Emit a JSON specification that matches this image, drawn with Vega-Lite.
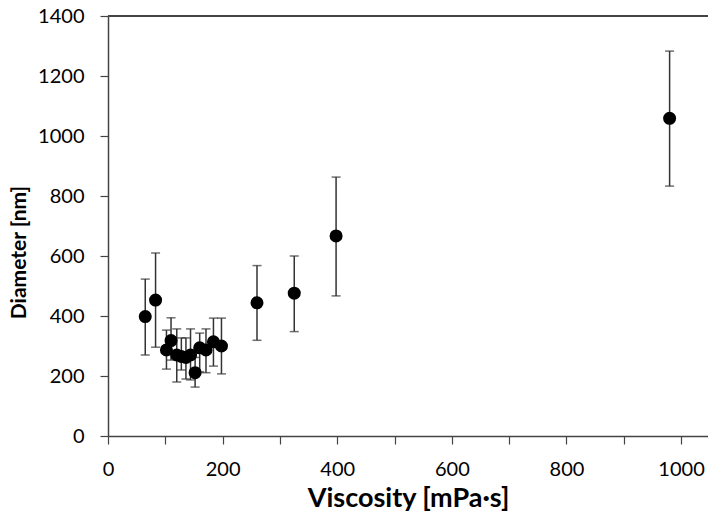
{
  "$schema": "https://vega.github.io/schema/vega-lite/v6.json",
  "autosize": "none",
  "width": 600,
  "height": 420,
  "padding": {"left": 108, "top": 16, "right": 0, "bottom": 83},
  "background": "white",
  "config": {"view": {"stroke": null}, "font": "Lato"},
  "data": {"values": [
    {"v": 65, "d": 398, "lo": 270, "hi": 523},
    {"v": 83, "d": 453, "lo": 296, "hi": 610},
    {"v": 102, "d": 287, "lo": 223, "hi": 353},
    {"v": 110, "d": 318, "lo": 253, "hi": 394},
    {"v": 120, "d": 270, "lo": 180, "hi": 357},
    {"v": 128, "d": 265, "lo": 220, "hi": 327},
    {"v": 136, "d": 262, "lo": 190, "hi": 327},
    {"v": 144, "d": 270, "lo": 187, "hi": 357},
    {"v": 152, "d": 211, "lo": 163, "hi": 262},
    {"v": 160, "d": 294, "lo": 214, "hi": 343},
    {"v": 171, "d": 287, "lo": 211, "hi": 357},
    {"v": 184, "d": 314, "lo": 233, "hi": 393},
    {"v": 198, "d": 300, "lo": 207, "hi": 393},
    {"v": 260, "d": 444, "lo": 319, "hi": 568},
    {"v": 325, "d": 476, "lo": 348, "hi": 600},
    {"v": 398, "d": 667, "lo": 467, "hi": 863},
    {"v": 980, "d": 1059, "lo": 833, "hi": 1283}
  ]},
  "encoding": {
    "x": {"field": "v", "type": "quantitative",
      "scale": {"domain": [0, 1047], "nice": false, "zero": true},
      "axis": {"title": "Viscosity [mPa·s]", "values": [0,100,200,300,400,500,600,700,800,900,1000],
        "labelExpr": "datum.value % 200 === 0 ? datum.value : ''", "labelFlush": false,
        "grid": false, "domainColor": "#444", "tickColor": "#444", "tickSize": 8, "domainWidth": 1.5, "tickWidth": 1.2,
        "labelFontSize": 20, "labelColor": "#000", "labelPadding": 15,
        "titleFontSize": 27, "titleFontWeight": "bold", "titleColor": "#000", "titlePadding": 6}}
  },
  "layer": [
    {"mark": {"type": "rule", "color": "#444", "strokeWidth": 1.5},
     "encoding": {"x": {"datum": 0, "type": "quantitative"}, "x2": {"datum": 1047}, "y": {"datum": 1400, "type": "quantitative"}}},
    {"mark": {"type": "rule", "color": "#333", "strokeWidth": 1.5},
     "encoding": {
       "y": {"field": "lo", "type": "quantitative",
         "scale": {"domain": [0, 1400], "nice": false},
         "axis": {"title": "Diameter [nm]", "values": [0,200,400,600,800,1000,1200,1400], "format": "d", "labelFlush": false,
           "grid": false, "domainColor": "#444", "tickColor": "#444", "tickSize": 8, "domainWidth": 1.5, "tickWidth": 1.2,
           "labelFontSize": 20, "labelColor": "#000", "labelPadding": 16,
           "titleFontSize": 21, "titleFontWeight": "bold", "titleColor": "#000", "titlePadding": 8, "titleY": 236}},
       "y2": {"field": "hi"}}},
    {"mark": {"type": "tick", "color": "#333", "size": 9, "thickness": 1.5, "orient": "horizontal"},
     "encoding": {"y": {"field": "lo", "type": "quantitative"}}},
    {"mark": {"type": "tick", "color": "#333", "size": 9, "thickness": 1.5, "orient": "horizontal"},
     "encoding": {"y": {"field": "hi", "type": "quantitative"}}},
    {"mark": {"type": "point", "filled": true, "color": "#000", "opacity": 1, "size": 170},
     "encoding": {"y": {"field": "d", "type": "quantitative"}}}
  ]
}
